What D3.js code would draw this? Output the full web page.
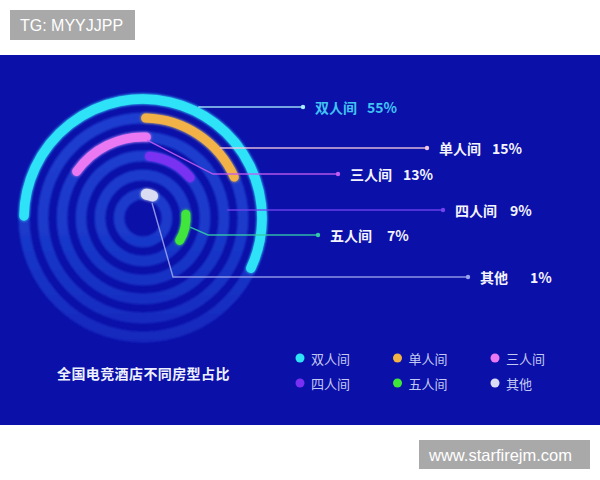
<!DOCTYPE html>
<html>
<head>
<meta charset="utf-8">
<script src="https://cdn.jsdelivr.net/npm/d3@7"></script>
<style>
  html, body { margin: 0; padding: 0; background: #ffffff; }
  svg { display: block; }
</style>
</head>
<body>
<svg id="chart" width="600" height="480"></svg>
<script>
// ---- data ----
const categories = ["双人间", "单人间", "三人间", "四人间", "五人间", "其他"];
const shares = [55, 15, 13, 9, 7, 1];
const title = "全国电竞酒店不同房型占比";
const watermarkTop = "TG: MYYJJPP";
const watermarkBottom = "www.starfirejm.com";

// ---- style / layout ----
const colors = ["#2fe3f7", "#f2b246", "#ea78f2", "#7a30f2", "#3fe63a", "#d9dcf2"];
const lineColors = ["#a9ecff", "#f3c6de", "#c45af0", "#7442ee", "#33c9a6", "#9aa2ec"];
const labelColors = ["#41c3f4", "#f4f4ff", "#f4f4ff", "#f4f4ff", "#f4f4ff", "#f4f4ff"];
const startDeg = [-89, 1.5, -55, 6, 85, 8];
// leader lines: anchor radius/angle (deg) or horizontal, elbow, row y, end dot x, gap to percent
const leaders = [
  { r: 124, y: 107, dotX: 303, gap: 10 },
  { r: 104, y: 148, dotX: 427, gap: 11 },
  { r: 78, a: 3, elbowX: 213, y: 174, dotX: 338, gap: 11 },
  { r: 84.5, y: 210, dotX: 443, gap: 13 },
  { r: 48, a: 101, elbowX: 208, y: 235, dotX: 318, gap: 15 },
  { r: 17.5, a: 31, elbowX: 173, y: 277, dotX: 468, gap: 22 }
];
const cx = 143, cy = 218;
const cjk = "'Noto Sans CJK SC', 'Noto Sans', sans-serif";

const svg = d3.select("#chart");
const defs = svg.append("defs");

// page + watermarks
svg.append("rect").attr("width", 600).attr("height", 480).attr("fill", "#ffffff");
svg.append("rect").attr("x", 0).attr("y", 55).attr("width", 600).attr("height", 370).attr("fill", "#0b10a9");

svg.append("rect").attr("x", 10).attr("y", 10).attr("width", 125).attr("height", 30).attr("fill", "#a9a9a9");
svg.append("text").attr("x", 20).attr("y", 25).attr("dominant-baseline", "central")
  .attr("font-family", "'Liberation Sans', Arial, sans-serif").attr("font-size", 16).attr("fill", "#ffffff")
  .text(watermarkTop);
svg.append("rect").attr("x", 419).attr("y", 440).attr("width", 171).attr("height", 29).attr("fill", "#a9a9a9");
svg.append("text").attr("x", 429).attr("y", 455).attr("dominant-baseline", "central")
  .attr("font-family", "'Liberation Sans', Arial, sans-serif").attr("font-size", 16.5).attr("fill", "#ffffff")
  .text(watermarkBottom);

// gradients / filters
const tg = defs.append("linearGradient").attr("id", "trackGrad")
  .attr("gradientUnits", "userSpaceOnUse").attr("x1", 0).attr("y1", -125).attr("x2", 0).attr("y2", 125);
tg.append("stop").attr("offset", 0).attr("stop-color", "#1d3ed0");
tg.append("stop").attr("offset", 0.55).attr("stop-color", "#1a3acb");
tg.append("stop").attr("offset", 1).attr("stop-color", "#1528bd");

const soft = defs.append("filter").attr("id", "soft")
  .attr("filterUnits", "userSpaceOnUse").attr("x", -150).attr("y", -150).attr("width", 300).attr("height", 300);
soft.append("feGaussianBlur").attr("stdDeviation", 0.9);

const glow = defs.append("filter").attr("id", "glow")
  .attr("filterUnits", "userSpaceOnUse").attr("x", -150).attr("y", -150).attr("width", 300).attr("height", 300);
glow.append("feGaussianBlur").attr("stdDeviation", 1.6).attr("result", "b");
const fm = glow.append("feMerge");
fm.append("feMergeNode").attr("in", "b");
fm.append("feMergeNode").attr("in", "SourceGraphic");

// scales
const radius = d3.scalePoint().domain(categories).range([119, 24]);
const span = d3.scaleLinear().domain([0, 55]).range([12, 204]);
const rad = d => d * Math.PI / 180;
const polar = (r, aDeg) => [cx + r * Math.sin(rad(aDeg)), cy - r * Math.cos(rad(aDeg))];

const g = svg.append("g").attr("transform", `translate(${cx},${cy})`);

// tracks
const trackW = 11;
const trackArc = d3.arc();
g.append("g").attr("filter", "url(#soft)")
  .selectAll("path.track").data(categories).join("path").attr("class", "track")
  .attr("d", c => trackArc({ innerRadius: radius(c) - trackW / 2, outerRadius: radius(c) + trackW / 2, startAngle: 0, endAngle: 2 * Math.PI }))
  .attr("fill", "url(#trackGrad)");

// leader lines (under arcs)
categories.forEach((c, i) => {
  const L = leaders[i];
  let pts;
  if (L.a === undefined) {
    const dy = cy - L.y;
    const dx = Math.sqrt(Math.max(L.r * L.r - dy * dy, 0));
    pts = [[cx + dx, L.y], [L.dotX, L.y]];
  } else {
    pts = [polar(L.r, L.a), [L.elbowX, L.y], [L.dotX, L.y]];
  }
  svg.append("path").attr("d", d3.line()(pts)).attr("fill", "none")
    .attr("stroke", lineColors[i]).attr("stroke-width", 1.4).attr("stroke-opacity", 0.9);
  svg.append("circle").attr("cx", L.dotX).attr("cy", L.y).attr("r", 2.2).attr("fill", lineColors[i]);
});

// value arcs: stroked centre-line arcs with round caps
const arcWidths = [9.5, 9, 9, 9, 9, 11];
g.append("g").attr("filter", "url(#glow)")
  .selectAll("path.val").data(categories).join("path").attr("class", "val")
  .attr("d", (c, i) => {
    const r = radius(c);
    const a0 = rad(startDeg[i]) - Math.PI / 2;
    const a1 = a0 + rad(span(shares[i]));
    const p = d3.path();
    p.arc(0, 0, r, a0, a1);
    return p.toString();
  })
  .attr("fill", "none")
  .attr("stroke", (c, i) => colors[i])
  .attr("stroke-width", (c, i) => arcWidths[i])
  .attr("stroke-linecap", "round");

// labels
categories.forEach((c, i) => {
  const L = leaders[i];
  const t = svg.append("text").attr("x", L.dotX + 12).attr("y", L.y).attr("dominant-baseline", "central")
    .attr("font-family", cjk).attr("font-weight", "bold").attr("font-size", 14).attr("fill", labelColors[i])
    .text(c);
  const w = t.node().getComputedTextLength();
  svg.append("text").attr("x", L.dotX + 12 + w + L.gap).attr("y", L.y).attr("dominant-baseline", "central")
    .attr("font-family", cjk).attr("font-weight", "bold").attr("font-size", 14).attr("fill", labelColors[i])
    .text(shares[i] + "%");
});

// title
svg.append("text").attr("x", 57).attr("y", 373).attr("dominant-baseline", "central")
  .attr("font-family", cjk).attr("font-weight", "bold").attr("font-size", 14).attr("letter-spacing", 0.4)
  .attr("fill", "#eef0ff").text(title);

// legend
const legX = d3.scalePoint().domain([0, 1, 2]).range([300, 495]);
const legY = d3.scalePoint().domain([0, 1]).range([358, 383]);
const leg = svg.selectAll("g.leg").data(categories).join("g").attr("class", "leg")
  .attr("transform", (c, i) => `translate(${legX(i % 3)},${legY(Math.floor(i / 3))})`);
leg.append("circle").attr("r", 4.5).attr("fill", (c, i) => colors[i]);
leg.append("text").attr("x", 11).attr("y", 0).attr("dominant-baseline", "central")
  .attr("font-family", cjk).attr("font-size", 13).attr("fill", "#c3c9f0").text(c => c);
</script>
</body>
</html>
